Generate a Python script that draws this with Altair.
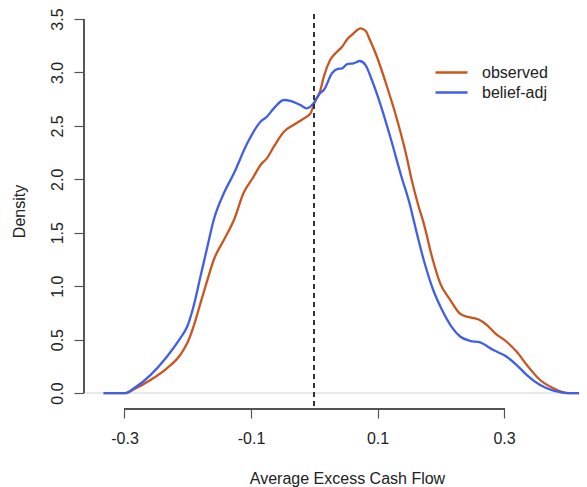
import altair as alt
import pandas as pd

# Density curves
obs_x = [-0.333, -0.298, -0.285, -0.259, -0.233, -0.212, -0.201, -0.191, -0.180, -0.169,
         -0.159, -0.143, -0.127, -0.112, -0.096, -0.085, -0.075, -0.064, -0.048, -0.033,
         -0.022, -0.012, -0.006, 0.002, 0.009, 0.015, 0.025, 0.036, 0.044, 0.052,
         0.062, 0.073, 0.081, 0.088, 0.099, 0.115, 0.131, 0.146, 0.154, 0.165,
         0.173, 0.186, 0.199, 0.215, 0.231, 0.246, 0.259, 0.273, 0.286, 0.304,
         0.320, 0.336, 0.357, 0.378, 0.399, 0.431]
obs_y = [0.0, 0.0, 0.035, 0.122, 0.231, 0.356, 0.465, 0.620, 0.839, 1.057,
         1.245, 1.432, 1.619, 1.869, 2.024, 2.134, 2.196, 2.305, 2.445, 2.508,
         2.548, 2.586, 2.617, 2.742, 2.820, 2.960, 3.116, 3.194, 3.241, 3.310,
         3.366, 3.413, 3.390, 3.303, 3.147, 2.866, 2.555, 2.211, 1.993, 1.743,
         1.588, 1.275, 1.026, 0.870, 0.739, 0.708, 0.690, 0.636, 0.559, 0.480,
         0.386, 0.262, 0.122, 0.044, 0.0, 0.0]

adj_x = [-0.333, -0.298, -0.285, -0.259, -0.233, -0.212, -0.201, -0.191, -0.180, -0.169,
         -0.159, -0.143, -0.127, -0.106, -0.085, -0.075, -0.064, -0.048, -0.038, -0.022,
         -0.012, -0.001, 0.009, 0.015, 0.028, 0.036, 0.044, 0.052, 0.062, 0.072,
         0.081, 0.091, 0.104, 0.120, 0.137, 0.152, 0.157, 0.173, 0.188, 0.202,
         0.217, 0.231, 0.246, 0.262, 0.283, 0.304, 0.320, 0.336, 0.357, 0.378,
         0.402, 0.431]
adj_y = [0.0, 0.0, 0.044, 0.168, 0.340, 0.512, 0.620, 0.808, 1.088, 1.369,
         1.619, 1.869, 2.056, 2.337, 2.539, 2.586, 2.664, 2.742, 2.735, 2.695,
         2.664, 2.711, 2.805, 2.835, 2.992, 3.032, 3.039, 3.079, 3.085, 3.107,
         3.069, 2.929, 2.711, 2.398, 2.040, 1.743, 1.619, 1.245, 0.964, 0.777,
         0.620, 0.527, 0.489, 0.474, 0.402, 0.340, 0.262, 0.168, 0.075, 0.022,
         0.0, 0.0]

series_names = ["observed", "belief-adj"]
series_colors = ["#C9561F", "#3F5FE8"]
x_ticks = [-0.3, -0.1, 0.1, 0.3]
y_ticks = [0.0, 0.5, 1.0, 1.5, 2.0, 2.5, 3.0, 3.5]
vline_at = 0.0

df = pd.concat([
    pd.DataFrame({"x": obs_x, "y": obs_y, "series": series_names[0], "order": range(len(obs_x))}),
    pd.DataFrame({"x": adj_x, "y": adj_y, "series": series_names[1], "order": range(len(adj_x))}),
], ignore_index=True)

FONT = "Liberation Sans"
W, H = 495, 394
xdom = [-0.364, 0.4184]
ydom = [-0.140, 3.547]

xscale = alt.Scale(domain=xdom, nice=False, zero=False)
yscale = alt.Scale(domain=ydom, nice=False, zero=False)

xaxis = alt.Axis(values=x_ticks, title="Average Excess Cash Flow", domain=False, grid=False,
                 tickSize=9, offset=1, labelPadding=12,
                 labelExpr="datum.value < 0 ? '-' + format(-datum.value, '.1f') : format(datum.value, '.1f')",
                 titleX=263, titleY=74, titleBaseline="alphabetic", titleAnchor="start", titleAlign="center")
yaxis = alt.Axis(values=y_ticks, title="Density", format=".1f", domain=False, grid=False,
                 tickSize=10, labelPadding=12, labelAngle=270, labelAlign="center",
                 labelBaseline="alphabetic",
                 titleAngle=270, titleX=-60, titleY=197, titleAlign="center",
                 titleBaseline="alphabetic", titleAnchor="start")

zero_line = alt.Chart(df).mark_rule(color="#E8E8E8", strokeWidth=1).encode(
    y=alt.Y(datum=0, scale=yscale, axis=yaxis)
)

lines = alt.Chart(df).mark_line(strokeWidth=2.3, interpolate="monotone", clip=True).encode(
    x=alt.X("x:Q", scale=xscale, axis=xaxis),
    y=alt.Y("y:Q", scale=yscale, axis=yaxis),
    color=alt.Color("series:N", scale=alt.Scale(domain=series_names, range=series_colors),
                    legend=alt.Legend(title=None, orient="none", legendX=356, legendY=47)),
    detail="series:N",
    order="order:Q",
)

vline = alt.Chart(df).mark_rule(color="#333333", strokeWidth=1.1, strokeDash=[5, 4]).encode(
    x=alt.X(datum=vline_at, scale=xscale, axis=xaxis)
)

x_axis_line = alt.Chart(df).mark_rule(color="#555555", strokeWidth=1.2).encode(
    x=alt.X(datum=x_ticks[0], scale=xscale, axis=xaxis), x2=alt.X2(datum=x_ticks[-1]), y=alt.value(H + 1)
)

y_axis_line = alt.Chart(df).mark_rule(color="#555555", strokeWidth=1.2).encode(
    x=alt.value(0), y=alt.Y(datum=y_ticks[0], scale=yscale, axis=yaxis), y2=alt.Y2(datum=y_ticks[-1])
)

chart = alt.layer(zero_line, lines, vline, x_axis_line, y_axis_line).properties(
    width=W, height=H,
    padding={"left": 76, "top": 6, "right": 0, "bottom": 79},
    autosize=alt.AutoSizeParams(type="none"),
).configure_view(stroke=None).configure_axis(
    labelFont=FONT, titleFont=FONT, labelFontSize=16, titleFontSize=16,
    labelColor="#222222", titleColor="#222222", tickColor="#555555", tickWidth=1.2,
    titleFontWeight="normal",
).configure_legend(
    labelFont=FONT, labelFontSize=16, labelColor="#222222",
    symbolType="M-1.6,0H1.6", symbolStrokeWidth=2.4, symbolSize=400,
    labelOffset=19, rowPadding=-2, padding=0,
)

chart.save("out.html", embed_options={"renderer": "svg", "actions": False})
